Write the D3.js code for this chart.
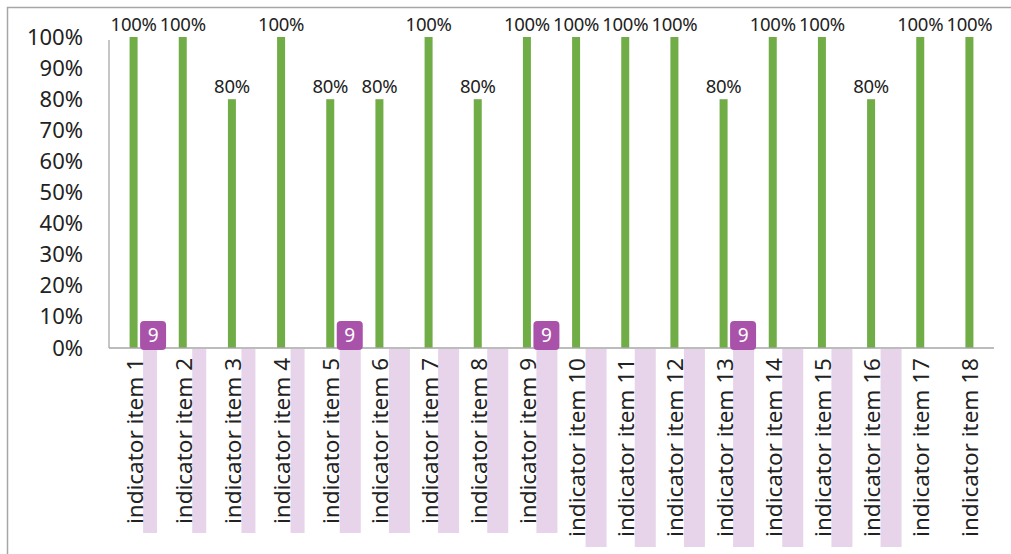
<!DOCTYPE html>
<html lang="en">
<head>
<meta charset="UTF-8">
<title>Indicator items</title>
<script src="https://d3js.org/d3.v7.min.js"></script>
<style>
  body { margin: 0; background: #fff; font-family: "Noto Sans", "Open Sans", sans-serif; }
  svg text { fill: #222; }
</style>
</head>
<body>
<svg id="chart" width="1011" height="554"></svg>
<script>
// data
const categories = ["indicator item 1", "indicator item 2", "indicator item 3", "indicator item 4",
  "indicator item 5", "indicator item 6", "indicator item 7", "indicator item 8", "indicator item 9",
  "indicator item 10", "indicator item 11", "indicator item 12", "indicator item 13", "indicator item 14",
  "indicator item 15", "indicator item 16", "indicator item 17", "indicator item 18"];
const values = [1, 1, 0.8, 1, 0.8, 0.8, 1, 0.8, 1, 1, 1, 1, 0.8, 1, 1, 0.8, 1, 1];
const yTicks = [0, 0.1, 0.2, 0.3, 0.4, 0.5, 0.6, 0.7, 0.8, 0.9, 1];
// overlay marks seen on the picture
const highlighted = categories.slice(0, 16);
const badgeItems = ["indicator item 1", "indicator item 5", "indicator item 9", "indicator item 13"];
const badgeText = "9";

const svg = d3.select("#chart");
const mLeft = 109, mRight = 994, mTop = 37, mBottom = 348;

// frame
svg.append("path")
  .attr("d", "M7.5,554 V7.5 H1011")
  .attr("fill", "none").attr("stroke", "#a6a6a6").attr("stroke-width", 1.5);

const x = d3.scaleBand().domain(categories).range([mLeft, mRight]);
const y = d3.scaleLinear().domain([0, 1]).range([mBottom, mTop]);
const cx = d => x(d) + x.bandwidth() / 2;

// pink strips behind the labels
svg.append("g").selectAll("rect")
  .data(highlighted)
  .join("rect")
  .attr("x", d => cx(d) + 9.5)
  .attr("y", mBottom + 1)
  .attr("width", (d, i) => i < 4 ? 14 : 21)
  .attr("height", (d, i) => i < 9 ? 533 - mBottom - 1 : 547 - mBottom - 1)
  .attr("fill", "#e8d4ea");

// y axis labels
svg.append("g")
  .attr("transform", `translate(${mLeft - 26},0)`)
  .call(d3.axisLeft(y).tickValues(yTicks).tickFormat(d3.format(".0%")).tickSize(0).tickPadding(0))
  .call(g => g.select(".domain").remove())
  .call(g => g.selectAll("text").attr("font-size", 22).attr("font-family", "Noto Sans").attr("fill", "#222"));

// axis lines
svg.append("line").attr("x1", mLeft).attr("x2", mLeft).attr("y1", mTop + 3).attr("y2", mBottom)
  .attr("stroke", "#b3b3b3").attr("stroke-width", 1.5);

// bars
svg.append("g").selectAll("rect")
  .data(values)
  .join("rect")
  .attr("x", (d, i) => cx(categories[i]) - 4)
  .attr("y", d => y(d))
  .attr("width", 8)
  .attr("height", d => mBottom - y(d))
  .attr("fill", "#70ad47");

svg.append("line").attr("x1", mLeft).attr("x2", mRight).attr("y1", mBottom).attr("y2", mBottom)
  .attr("stroke", "#a6a6a6").attr("stroke-width", 1.5);

// data labels
svg.append("g").selectAll("text")
  .data(values)
  .join("text")
  .attr("x", (d, i) => cx(categories[i]))
  .attr("y", d => y(d) - 6)
  .attr("text-anchor", "middle")
  .attr("font-size", 18.5)
  .attr("letter-spacing", -0.3)
  .text(d => d3.format(".0%")(d));

// category labels, rotated
svg.append("g").selectAll("text")
  .data(categories)
  .join("text")
  .attr("transform", d => `translate(${cx(d) + 9},${mBottom + 10}) rotate(-90)`)
  .attr("text-anchor", "end")
  .attr("font-size", 22.5)
  .text(d => d);

// badges
const badges = svg.append("g").selectAll("g")
  .data(badgeItems)
  .join("g")
  .attr("transform", d => `translate(${cx(d) + 6.5},${mBottom - 27})`);
badges.append("rect")
  .attr("width", 26).attr("height", 29).attr("rx", 4)
  .attr("fill", "#a952a9");
badges.append("text")
  .attr("x", 13).attr("y", 21)
  .attr("text-anchor", "middle")
  .attr("font-size", 19)
  .style("fill", "#fff")
  .text(badgeText);
</script>
</body>
</html>
